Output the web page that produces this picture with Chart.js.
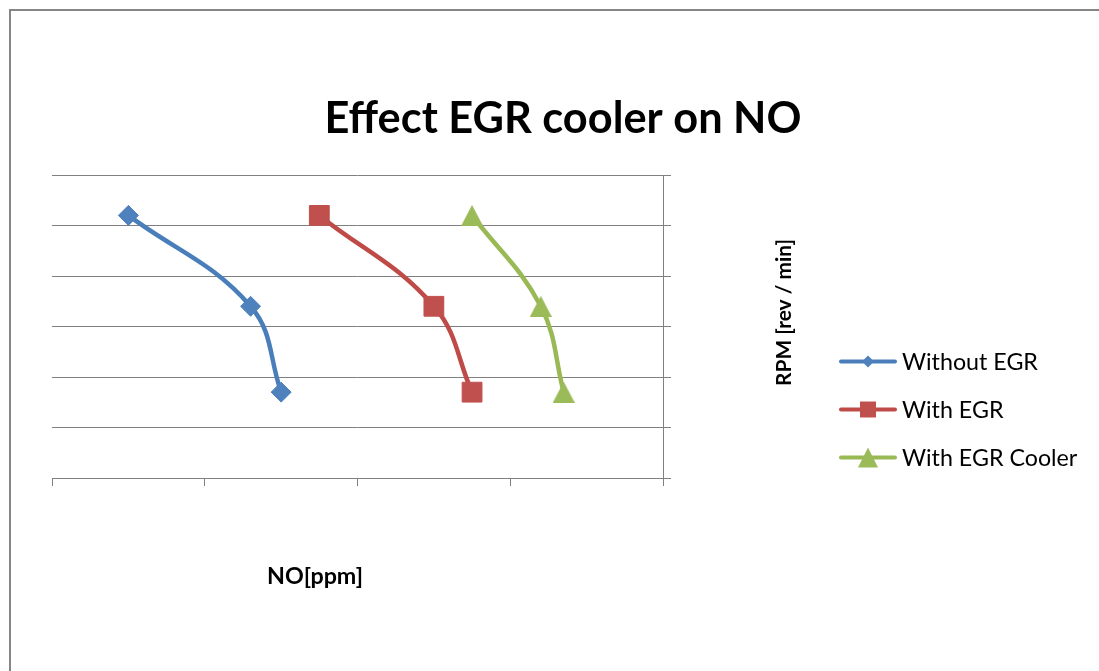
<!DOCTYPE html>
<html>
<head>
<meta charset="utf-8">
<script src="https://cdn.jsdelivr.net/npm/chart.js@4"></script>
<style>
  html, body { margin: 0; padding: 0; background: #fff; }
  #wrap { width: 1099px; height: 671px; }
</style>
</head>
<body>
<div id="wrap"><canvas id="chart" width="1099" height="671"></canvas></div>
<script>
// data
const rpm = [2600, 1700, 850];
const noWithoutEGR = [50, 130, 150];
const noWithEGR = [175, 250, 275];
const noWithCooler = [275, 320, 335];
const seriesNames = ['Without EGR', 'With EGR', 'With EGR Cooler'];
const xTicks = [0, 100, 200, 300, 400];
const yTicks = [0, 500, 1000, 1500, 2000, 2500, 3000];

const lineColors = ['#4A7EBB', '#BE4B48', '#98B954'];
const markColors = ['#4F81BD', '#C0504D', '#9BBB59'];
const markSizes = [10, 14, 13];
const gridGray = '#808080';

function pts(xs) {
  return xs.map(function (x, i) { return { x: x, y: rpm[i] }; });
}

// triangle marker centred on its box, like the office one
function triangleImage(w, h, color) {
  const c = document.createElement('canvas');
  c.width = w; c.height = h;
  const g = c.getContext('2d');
  g.fillStyle = color;
  g.beginPath();
  g.moveTo(w / 2, 0); g.lineTo(w, h); g.lineTo(0, h);
  g.closePath();
  g.fill();
  return c;
}

const markStyles = ['rectRot', 'rect', triangleImage(22, 21, markColors[2])];

// font size that makes text span a given width
function fitFont(ctx, text, weight, family, width) {
  ctx.font = weight + ' 100px ' + family;
  const w = ctx.measureText(text).width;
  return weight + ' ' + (100 * width / w).toFixed(2) + 'px ' + family;
}

function drawMark(ctx, i, x, y, r, color) {
  ctx.fillStyle = color;
  ctx.beginPath();
  if (i === 0) {
    ctx.moveTo(x, y - r); ctx.lineTo(x + r, y); ctx.lineTo(x, y + r); ctx.lineTo(x - r, y);
  } else if (i === 1) {
    ctx.rect(x - r, y - r, 2 * r, 2 * r);
  } else {
    ctx.moveTo(x, y - r); ctx.lineTo(x + r, y + r); ctx.lineTo(x - r, y + r);
  }
  ctx.closePath();
  ctx.fill();
}

const decor = {
  id: 'decor',
  afterDraw(chart) {
    const ctx = chart.ctx;
    const family = 'Lato, "Open Sans", sans-serif';
    ctx.save();
    // outer frame
    ctx.strokeStyle = '#868686';
    ctx.lineWidth = 2;
    ctx.strokeRect(10, 10, 1200, 800);

    ctx.fillStyle = '#000';
    ctx.textAlign = 'center';
    ctx.textBaseline = 'alphabetic';
    // title
    const title = 'Effect EGR cooler on NO';
    ctx.font = fitFont(ctx, title, 'bold', family, 477);
    ctx.fillText(title, 563, 133);
    // x axis title
    ctx.font = fitFont(ctx, 'NO[ppm]', 'bold', family, 96);
    ctx.fillText('NO[ppm]', 315, 584);
    // y axis title
    ctx.save();
    ctx.translate(791, 312.5);
    ctx.rotate(-Math.PI / 2);
    ctx.font = fitFont(ctx, 'RPM [rev / min]', 'bold', family, 147);
    ctx.fillText('RPM [rev / min]', 0, 0);
    ctx.restore();

    // legend
    const rows = [361.5, 409.5, 457.5];
    const legR = [6, 8, 10];
    ctx.textAlign = 'left';
    const legFont = fitFont(ctx, 'Without EGR', 'normal', family, 136);
    chart.data.datasets.forEach(function (ds, i) {
      const y = rows[i];
      ctx.strokeStyle = lineColors[i];
      ctx.lineWidth = 4;
      ctx.lineCap = 'round';
      ctx.beginPath();
      ctx.moveTo(841, y);
      ctx.lineTo(895, y);
      ctx.stroke();
      drawMark(ctx, i, 868, y, legR[i], markColors[i]);
      ctx.fillStyle = '#000';
      ctx.font = legFont;
      ctx.fillText(ds.label, 902, y + 8.5);
    });
    ctx.restore();
  }
};

const series = [noWithoutEGR, noWithEGR, noWithCooler];

new Chart(document.getElementById('chart'), {
  type: 'scatter',
  data: {
    datasets: series.map(function (xs, i) {
      return {
        label: seriesNames[i],
        data: pts(xs),
        showLine: true,
        tension: 0.4,
        borderColor: lineColors[i],
        borderWidth: 4.5,
        backgroundColor: markColors[i],
        pointStyle: markStyles[i],
        pointRadius: markSizes[i],
        pointHoverRadius: markSizes[i],
        pointBackgroundColor: markColors[i],
        pointBorderColor: markColors[i],
        pointBorderWidth: 1
      };
    })
  },
  options: {
    responsive: false,
    animation: false,
    events: [],
    layout: { padding: { left: 52, top: 175, right: 0, bottom: 0 } },
    plugins: {
      legend: { display: false },
      title: { display: false },
      tooltip: { enabled: false }
    },
    scales: {
      x: {
        type: 'linear',
        position: 'bottom',
        min: xTicks[0],
        max: xTicks[xTicks.length - 1],
        afterBuildTicks(scale) { scale.ticks = xTicks.map(function (v) { return { value: v }; }); },
        afterFit(scale) { scale.height = 671 - 478; },
        ticks: { display: false },
        grid: { drawOnChartArea: false, drawTicks: true, tickLength: 8, color: gridGray, lineWidth: 1 },
        border: { display: true, color: gridGray, width: 1 }
      },
      y: {
        type: 'linear',
        position: 'right',
        min: yTicks[0],
        max: yTicks[yTicks.length - 1],
        afterBuildTicks(scale) { scale.ticks = yTicks.map(function (v) { return { value: v }; }); },
        afterFit(scale) { scale.width = 1099 - 663; },
        ticks: { display: false },
        grid: { drawOnChartArea: true, drawTicks: true, tickLength: 8, color: gridGray, lineWidth: 1 },
        border: { display: true, color: gridGray, width: 1 }
      }
    }
  },
  plugins: [decor]
});
</script>
</body>
</html>
